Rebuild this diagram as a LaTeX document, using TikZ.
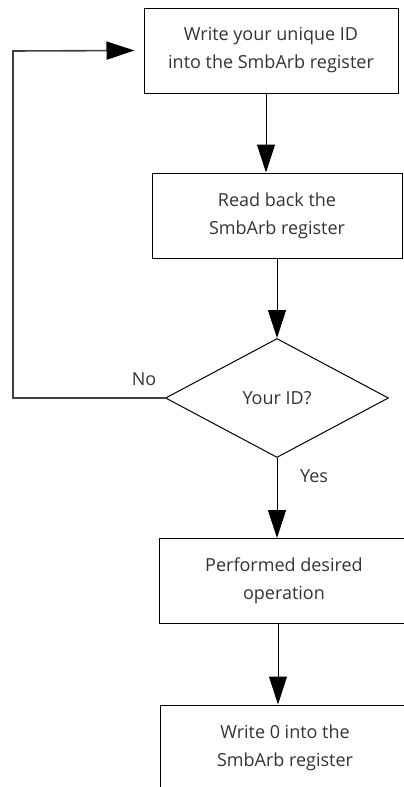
\documentclass[tikz,border=0pt]{standalone}
\usepackage{fontspec}
\setmainfont{Open Sans}
\usetikzlibrary{shapes.geometric,arrows.meta}
\begin{document}
\begin{tikzpicture}[x=1pt,y=1pt, font=\fontsize{18}{28}\selectfont, text=black!80,
  box/.style={draw, align=center, minimum width=250pt, minimum height=85pt, line width=1pt},
  arr/.style={-{Triangle[length=28pt,width=18pt,color=black]}, line width=1pt}]
\path[use as bounding box, clip] (0,0) rectangle (404,-787);
\node[box, minimum width=254pt] (a) at (271,-50.5) {Write your unique ID\\ into the SmbArb register};
\node[box] (b) at (277,-215.5) {Read back the\\ SmbArb register};
\node[draw, diamond, minimum width=223pt, minimum height=119pt, inner sep=0pt, line width=1pt] (c) at (277,-398) {Your ID?};
\node[box] (d) at (284,-581) {Performed desired\\ operation};
\node[box] (e) at (285,-747.5) {Write 0 into the\\ SmbArb register};
\node (no) at (144,-379) {No};
\node (yes) at (314,-476) {Yes};
\coordinate (loop) at (13,-51);
\draw[arr] ([xshift=-5pt]a.south) -- ([xshift=-5pt]a.south |- b.north);
\draw[arr] (b.south) -- (c.north);
\draw[arr] (c.south) -- (c.south |- d.north);
\draw[arr] ([xshift=-6pt]d.south) -- ([xshift=-6pt]d.south |- e.north);
\draw[arr, line width=1.6pt, black!75] (c.west) -| (loop) -- ([xshift=-9pt]a.west);
\end{tikzpicture}
\end{document}
